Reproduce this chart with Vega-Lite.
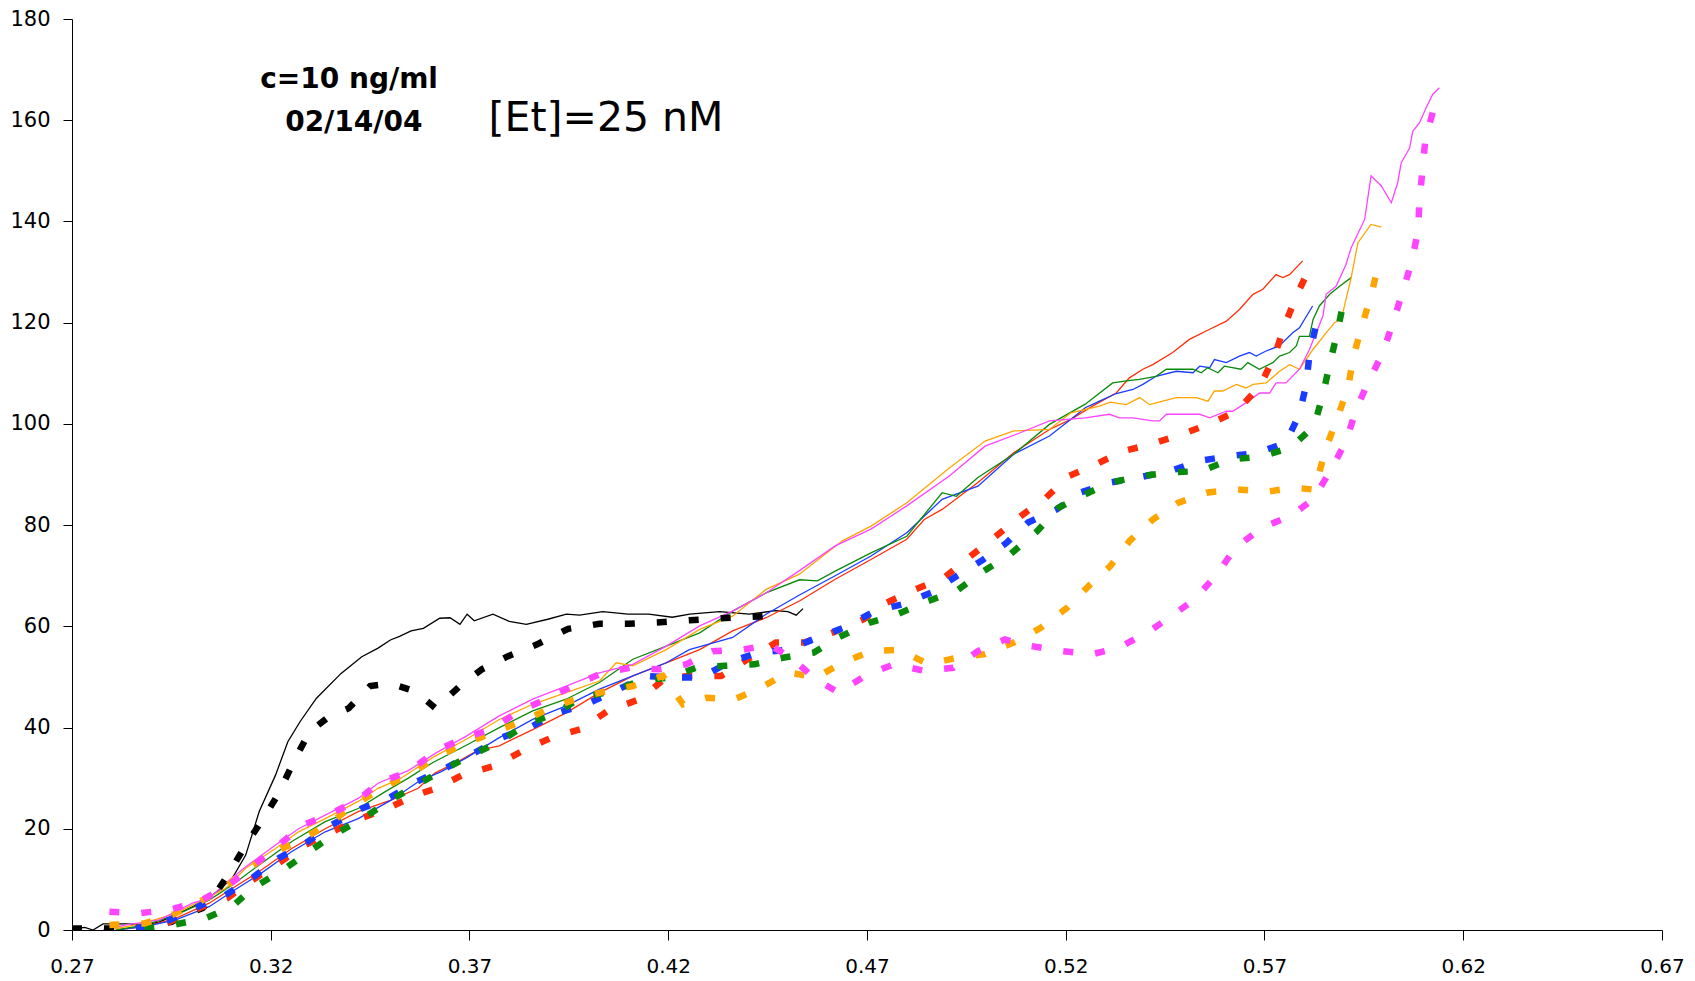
{
"$schema": "https://vega.github.io/schema/vega-lite/v6.json",
"width": 1590, "height": 911,
"autosize": "none",
"padding": {"left": 72, "top": 19, "right": 33, "bottom": 51},
"background": "white",
"config": {"view": {"stroke": null}, "font": "DejaVu Sans"},
"datasets": {
"solid": [
{"r":"A","x":0.2703,"y":0.2},{"r":"A","x":0.2732,"y":0.5},{"r":"A","x":0.2753,"y":0},{"r":"A","x":0.2778,"y":1.2},{"r":"A","x":0.2836,"y":1.2},{"r":"A","x":0.2886,"y":1.0},{"r":"A","x":0.292,"y":1.6},{"r":"A","x":0.2961,"y":3.0},{"r":"A","x":0.3003,"y":4.6},{"r":"A","x":0.3036,"y":5.9},{"r":"A","x":0.307,"y":7.9},{"r":"A","x":0.3103,"y":10.2},{"r":"A","x":0.3137,"y":14.8},{"r":"A","x":0.3171,"y":23.4},{"r":"A","x":0.3212,"y":30.6},{"r":"A","x":0.3243,"y":37.2},{"r":"A","x":0.3274,"y":41.2},{"r":"A","x":0.3315,"y":45.8},{"r":"A","x":0.3377,"y":50.7},{"r":"A","x":0.3429,"y":54.0},{"r":"A","x":0.347,"y":55.7},{"r":"A","x":0.3501,"y":57.3},{"r":"A","x":0.3524,"y":58.0},{"r":"A","x":0.3553,"y":59.1},{"r":"A","x":0.3584,"y":59.6},{"r":"A","x":0.3625,"y":61.6},{"r":"A","x":0.3651,"y":61.7},{"r":"A","x":0.3676,"y":60.4},{"r":"A","x":0.3694,"y":62.4},{"r":"A","x":0.3712,"y":61.1},{"r":"A","x":0.3759,"y":62.4},{"r":"A","x":0.38,"y":61.0},{"r":"A","x":0.3843,"y":60.4},{"r":"A","x":0.3897,"y":61.4},{"r":"A","x":0.3944,"y":62.4},{"r":"A","x":0.3977,"y":62.2},{"r":"A","x":0.4035,"y":62.9},{"r":"A","x":0.4099,"y":62.4},{"r":"A","x":0.4151,"y":62.4},{"r":"A","x":0.421,"y":61.8},{"r":"A","x":0.4254,"y":62.4},{"r":"A","x":0.4329,"y":62.9},{"r":"A","x":0.4404,"y":62.4},{"r":"A","x":0.447,"y":63.1},{"r":"A","x":0.4501,"y":62.9},{"r":"A","x":0.4522,"y":62.2},{"r":"A","x":0.4539,"y":63.5},
{"r":"B","x":0.2811,"y":0},{"r":"B","x":0.2886,"y":0.7},{"r":"B","x":0.2961,"y":2.3},{"r":"B","x":0.3045,"y":5.3},{"r":"B","x":0.3103,"y":8.2},{"r":"B","x":0.317,"y":11.5},{"r":"B","x":0.3253,"y":16.1},{"r":"B","x":0.3337,"y":20.0},{"r":"B","x":0.342,"y":23.4},{"r":"B","x":0.3504,"y":25.7},{"r":"B","x":0.3571,"y":28.0},{"r":"B","x":0.3613,"y":31.0},{"r":"B","x":0.3671,"y":33.3},{"r":"B","x":0.3721,"y":35.5},{"r":"B","x":0.3775,"y":36.4},{"r":"B","x":0.3859,"y":39.6},{"r":"B","x":0.3943,"y":42.9},{"r":"B","x":0.4027,"y":46.9},{"r":"B","x":0.4111,"y":50.2},{"r":"B","x":0.4195,"y":52.8},{"r":"B","x":0.4279,"y":55.4},{"r":"B","x":0.4362,"y":59.1},{"r":"B","x":0.4446,"y":61.7},{"r":"B","x":0.453,"y":65.0},{"r":"B","x":0.462,"y":69.3},{"r":"B","x":0.471,"y":73.2},{"r":"B","x":0.48,"y":77.2},{"r":"B","x":0.4844,"y":81.1},{"r":"B","x":0.4889,"y":83.1},{"r":"B","x":0.4979,"y":88.4},{"r":"B","x":0.5069,"y":94.3},{"r":"B","x":0.5159,"y":98.9},{"r":"B","x":0.5213,"y":100.9},{"r":"B","x":0.5267,"y":103.5},{"r":"B","x":0.5327,"y":106.1},{"r":"B","x":0.536,"y":109.1},{"r":"B","x":0.5394,"y":110.8},{"r":"B","x":0.5419,"y":111.7},{"r":"B","x":0.5469,"y":114.1},{"r":"B","x":0.5511,"y":116.7},{"r":"B","x":0.5562,"y":118.7},{"r":"B","x":0.5604,"y":120.3},{"r":"B","x":0.5637,"y":122.6},{"r":"B","x":0.5671,"y":125.6},{"r":"B","x":0.5696,"y":126.6},{"r":"B","x":0.5729,"y":129.5},{"r":"B","x":0.5746,"y":128.9},{"r":"B","x":0.5763,"y":129.5},{"r":"B","x":0.5796,"y":132.2},
{"r":"C","x":0.2811,"y":0},{"r":"C","x":0.2886,"y":0.7},{"r":"C","x":0.2961,"y":2.0},{"r":"C","x":0.3045,"y":4.6},{"r":"C","x":0.3103,"y":7.6},{"r":"C","x":0.317,"y":10.9},{"r":"C","x":0.3253,"y":15.5},{"r":"C","x":0.3337,"y":19.4},{"r":"C","x":0.342,"y":22.0},{"r":"C","x":0.3504,"y":25.7},{"r":"C","x":0.3571,"y":29.3},{"r":"C","x":0.3629,"y":31.3},{"r":"C","x":0.3692,"y":34.0},{"r":"C","x":0.3775,"y":38.0},{"r":"C","x":0.3859,"y":41.6},{"r":"C","x":0.3943,"y":44.3},{"r":"C","x":0.4027,"y":47.6},{"r":"C","x":0.4111,"y":50.2},{"r":"C","x":0.4195,"y":52.8},{"r":"C","x":0.4253,"y":55.4},{"r":"C","x":0.4362,"y":57.8},{"r":"C","x":0.4446,"y":62.4},{"r":"C","x":0.453,"y":66.2},{"r":"C","x":0.462,"y":70.0},{"r":"C","x":0.471,"y":73.9},{"r":"C","x":0.48,"y":78.5},{"r":"C","x":0.4889,"y":85.1},{"r":"C","x":0.4979,"y":87.7},{"r":"C","x":0.5069,"y":94.0},{"r":"C","x":0.5159,"y":97.6},{"r":"C","x":0.5213,"y":100.9},{"r":"C","x":0.5249,"y":103.2},{"r":"C","x":0.5285,"y":104.5},{"r":"C","x":0.5327,"y":106.0},{"r":"C","x":0.5369,"y":106.8},{"r":"C","x":0.5394,"y":107.8},{"r":"C","x":0.5427,"y":109.4},{"r":"C","x":0.5478,"y":110.4},{"r":"C","x":0.552,"y":110.1},{"r":"C","x":0.5537,"y":111.4},{"r":"C","x":0.5562,"y":111.1},{"r":"C","x":0.5574,"y":112.7},{"r":"C","x":0.5604,"y":112.1},{"r":"C","x":0.5637,"y":113.4},{"r":"C","x":0.5662,"y":114.1},{"r":"C","x":0.5679,"y":113.4},{"r":"C","x":0.5704,"y":114.4},{"r":"C","x":0.5737,"y":115.4},{"r":"C","x":0.5771,"y":118.0},{"r":"C","x":0.5788,"y":119.0},{"r":"C","x":0.5821,"y":123.3},
{"r":"D","x":0.2811,"y":0},{"r":"D","x":0.2886,"y":1.0},{"r":"D","x":0.2961,"y":3.0},{"r":"D","x":0.3045,"y":5.9},{"r":"D","x":0.3103,"y":8.9},{"r":"D","x":0.317,"y":12.8},{"r":"D","x":0.3253,"y":17.5},{"r":"D","x":0.3337,"y":21.4},{"r":"D","x":0.342,"y":24.0},{"r":"D","x":0.3487,"y":27.3},{"r":"D","x":0.3546,"y":30.0},{"r":"D","x":0.3608,"y":33.1},{"r":"D","x":0.3692,"y":36.5},{"r":"D","x":0.3775,"y":40.0},{"r":"D","x":0.3859,"y":43.3},{"r":"D","x":0.3943,"y":45.6},{"r":"D","x":0.4027,"y":48.9},{"r":"D","x":0.4111,"y":53.5},{"r":"D","x":0.4195,"y":56.1},{"r":"D","x":0.4279,"y":58.7},{"r":"D","x":0.4362,"y":63.0},{"r":"D","x":0.4446,"y":66.6},{"r":"D","x":0.453,"y":69.2},{"r":"D","x":0.4575,"y":69.0},{"r":"D","x":0.462,"y":70.9},{"r":"D","x":0.471,"y":74.5},{"r":"D","x":0.48,"y":77.8},{"r":"D","x":0.4889,"y":86.4},{"r":"D","x":0.4925,"y":85.7},{"r":"D","x":0.4979,"y":89.4},{"r":"D","x":0.5069,"y":94.0},{"r":"D","x":0.5159,"y":99.9},{"r":"D","x":0.5249,"y":103.9},{"r":"D","x":0.5318,"y":108.1},{"r":"D","x":0.5352,"y":108.5},{"r":"D","x":0.5385,"y":108.8},{"r":"D","x":0.5427,"y":109.4},{"r":"D","x":0.5453,"y":110.8},{"r":"D","x":0.552,"y":110.8},{"r":"D","x":0.5541,"y":110.1},{"r":"D","x":0.5557,"y":111.1},{"r":"D","x":0.5583,"y":110.1},{"r":"D","x":0.5599,"y":111.4},{"r":"D","x":0.5641,"y":110.8},{"r":"D","x":0.5658,"y":112.1},{"r":"D","x":0.5687,"y":110.8},{"r":"D","x":0.5721,"y":112.1},{"r":"D","x":0.5738,"y":113.4},{"r":"D","x":0.5763,"y":114.1},{"r":"D","x":0.578,"y":115.4},{"r":"D","x":0.5788,"y":117.3},{"r":"D","x":0.5813,"y":117.3},{"r":"D","x":0.5822,"y":120.6},{"r":"D","x":0.5838,"y":123.3},{"r":"D","x":0.5864,"y":125.6},{"r":"D","x":0.5889,"y":127.2},{"r":"D","x":0.5918,"y":128.9},
{"r":"E","x":0.2794,"y":0},{"r":"E","x":0.2878,"y":1.3},{"r":"E","x":0.2961,"y":3.3},{"r":"E","x":0.3045,"y":6.6},{"r":"E","x":0.3086,"y":8.2},{"r":"E","x":0.3137,"y":12.2},{"r":"E","x":0.3212,"y":16.1},{"r":"E","x":0.327,"y":19.4},{"r":"E","x":0.3337,"y":22.0},{"r":"E","x":0.342,"y":25.4},{"r":"E","x":0.347,"y":28.0},{"r":"E","x":0.3524,"y":29.8},{"r":"E","x":0.3608,"y":34.1},{"r":"E","x":0.3692,"y":37.7},{"r":"E","x":0.3775,"y":41.6},{"r":"E","x":0.3859,"y":44.6},{"r":"E","x":0.3943,"y":46.9},{"r":"E","x":0.4027,"y":49.2},{"r":"E","x":0.4069,"y":52.8},{"r":"E","x":0.4111,"y":52.2},{"r":"E","x":0.4195,"y":55.4},{"r":"E","x":0.4279,"y":59.4},{"r":"E","x":0.4362,"y":62.0},{"r":"E","x":0.4446,"y":67.3},{"r":"E","x":0.453,"y":70.3},{"r":"E","x":0.4638,"y":76.9},{"r":"E","x":0.471,"y":79.8},{"r":"E","x":0.48,"y":84.4},{"r":"E","x":0.4907,"y":91.3},{"r":"E","x":0.4997,"y":96.6},{"r":"E","x":0.5069,"y":98.6},{"r":"E","x":0.5159,"y":98.9},{"r":"E","x":0.5213,"y":102.2},{"r":"E","x":0.5285,"y":103.5},{"r":"E","x":0.5312,"y":104.3},{"r":"E","x":0.5352,"y":103.8},{"r":"E","x":0.5386,"y":105.2},{"r":"E","x":0.5411,"y":103.8},{"r":"E","x":0.5444,"y":104.5},{"r":"E","x":0.5478,"y":105.2},{"r":"E","x":0.5528,"y":105.2},{"r":"E","x":0.5558,"y":104.5},{"r":"E","x":0.5574,"y":106.5},{"r":"E","x":0.5595,"y":106.5},{"r":"E","x":0.5629,"y":107.8},{"r":"E","x":0.5654,"y":107.1},{"r":"E","x":0.5671,"y":107.8},{"r":"E","x":0.5704,"y":108.1},{"r":"E","x":0.5738,"y":110.4},{"r":"E","x":0.5763,"y":111.7},{"r":"E","x":0.5788,"y":110.8},{"r":"E","x":0.5822,"y":114.7},{"r":"E","x":0.5855,"y":118.0},{"r":"E","x":0.5876,"y":120.0},{"r":"E","x":0.5893,"y":120.6},{"r":"E","x":0.5918,"y":128.9},{"r":"E","x":0.5935,"y":135.8},{"r":"E","x":0.5968,"y":139.4},{"r":"E","x":0.5994,"y":138.9},
{"r":"F","x":0.2778,"y":0},{"r":"F","x":0.2836,"y":1.0},{"r":"F","x":0.292,"y":2.0},{"r":"F","x":0.3003,"y":5.3},{"r":"F","x":0.3045,"y":6.3},{"r":"F","x":0.3086,"y":9.2},{"r":"F","x":0.3137,"y":12.5},{"r":"F","x":0.3212,"y":16.8},{"r":"F","x":0.327,"y":20.0},{"r":"F","x":0.3337,"y":22.7},{"r":"F","x":0.342,"y":26.0},{"r":"F","x":0.347,"y":29.0},{"r":"F","x":0.3546,"y":31.5},{"r":"F","x":0.3616,"y":35.0},{"r":"F","x":0.3692,"y":38.3},{"r":"F","x":0.3775,"y":42.3},{"r":"F","x":0.3859,"y":45.6},{"r":"F","x":0.3943,"y":48.2},{"r":"F","x":0.4027,"y":50.8},{"r":"F","x":0.4111,"y":52.5},{"r":"F","x":0.4195,"y":56.1},{"r":"F","x":0.4279,"y":60.1},{"r":"F","x":0.4362,"y":63.0},{"r":"F","x":0.4446,"y":66.6},{"r":"F","x":0.453,"y":71.0},{"r":"F","x":0.462,"y":75.9},{"r":"F","x":0.471,"y":79.2},{"r":"F","x":0.48,"y":83.8},{"r":"F","x":0.4907,"y":89.7},{"r":"F","x":0.4997,"y":95.6},{"r":"F","x":0.5087,"y":98.3},{"r":"F","x":0.5159,"y":100.6},{"r":"F","x":0.5249,"y":101.2},{"r":"F","x":0.531,"y":101.9},{"r":"F","x":0.5335,"y":101.2},{"r":"F","x":0.5369,"y":101.2},{"r":"F","x":0.5419,"y":100.6},{"r":"F","x":0.5436,"y":100.6},{"r":"F","x":0.5453,"y":101.9},{"r":"F","x":0.5537,"y":101.9},{"r":"F","x":0.5562,"y":101.2},{"r":"F","x":0.5604,"y":102.5},{"r":"F","x":0.562,"y":102.5},{"r":"F","x":0.5654,"y":104.2},{"r":"F","x":0.5688,"y":106.1},{"r":"F","x":0.5713,"y":106.1},{"r":"F","x":0.5729,"y":108.1},{"r":"F","x":0.5754,"y":108.1},{"r":"F","x":0.5788,"y":110.8},{"r":"F","x":0.5813,"y":114.7},{"r":"F","x":0.5847,"y":121.3},{"r":"F","x":0.5855,"y":125.6},{"r":"F","x":0.588,"y":127.2},{"r":"F","x":0.5905,"y":131.5},{"r":"F","x":0.5918,"y":134.8},{"r":"F","x":0.5952,"y":140.4},{"r":"F","x":0.5968,"y":149.0},{"r":"F","x":0.5994,"y":147.0},{"r":"F","x":0.6019,"y":143.7},{"r":"F","x":0.6035,"y":147.6},{"r":"F","x":0.6044,"y":151.6},{"r":"F","x":0.6065,"y":154.5},{"r":"F","x":0.6073,"y":157.8},{"r":"F","x":0.609,"y":159.5},{"r":"F","x":0.6107,"y":162.5},{"r":"F","x":0.6123,"y":165.1},{"r":"F","x":0.614,"y":166.4}
],
"dashed": [
{"r":"A","x":0.27,"y":0.3},{"r":"A","x":0.28,"y":0.3},{"r":"A","x":0.288,"y":0.5},{"r":"A","x":0.295,"y":1.6},{"r":"A","x":0.299,"y":3.2},{"r":"A","x":0.3028,"y":4.3},{"r":"A","x":0.306,"y":7.0},{"r":"A","x":0.3095,"y":11.2},{"r":"A","x":0.3137,"y":16.8},{"r":"A","x":0.3182,"y":22.1},{"r":"A","x":0.322,"y":27.0},{"r":"A","x":0.3258,"y":33.3},{"r":"A","x":0.3297,"y":39.1},{"r":"A","x":0.3347,"y":42.2},{"r":"A","x":0.3396,"y":43.8},{"r":"A","x":0.345,"y":48.2},{"r":"A","x":0.3502,"y":48.7},{"r":"A","x":0.3565,"y":47.1},{"r":"A","x":0.3615,"y":43.8},{"r":"A","x":0.3673,"y":48.0},{"r":"A","x":0.3731,"y":51.5},{"r":"A","x":0.3797,"y":54.1},{"r":"A","x":0.3869,"y":56.4},{"r":"A","x":0.3948,"y":59.5},{"r":"A","x":0.4027,"y":60.5},{"r":"A","x":0.4101,"y":60.5},{"r":"A","x":0.4181,"y":60.8},{"r":"A","x":0.4254,"y":61.2},{"r":"A","x":0.4332,"y":61.6},{"r":"A","x":0.4408,"y":61.9},{"r":"A","x":0.4487,"y":62.2},
{"r":"B","x":0.2861,"y":0.3},{"r":"B","x":0.2945,"y":1.6},{"r":"B","x":0.3028,"y":4.6},{"r":"B","x":0.3091,"y":6.3},{"r":"B","x":0.3149,"y":9.6},{"r":"B","x":0.3212,"y":12.8},{"r":"B","x":0.3287,"y":16.8},{"r":"B","x":0.3354,"y":19.4},{"r":"B","x":0.3416,"y":21.7},{"r":"B","x":0.3504,"y":24.4},{"r":"B","x":0.356,"y":26.5},{"r":"B","x":0.362,"y":28.1},{"r":"B","x":0.3687,"y":30.8},{"r":"B","x":0.3763,"y":32.4},{"r":"B","x":0.3834,"y":35.4},{"r":"B","x":0.3906,"y":38.0},{"r":"B","x":0.3981,"y":39.7},{"r":"B","x":0.4048,"y":43.3},{"r":"B","x":0.4128,"y":45.6},{"r":"B","x":0.4195,"y":49.9},{"r":"B","x":0.4262,"y":50.2},{"r":"B","x":0.4333,"y":50.2},{"r":"B","x":0.44,"y":53.5},{"r":"B","x":0.4471,"y":56.8},{"r":"B","x":0.4543,"y":56.8},{"r":"B","x":0.4615,"y":58.8},{"r":"B","x":0.4692,"y":61.4},{"r":"B","x":0.475,"y":64.7},{"r":"B","x":0.4822,"y":67.3},{"r":"B","x":0.4894,"y":69.6},{"r":"B","x":0.4961,"y":73.9},{"r":"B","x":0.5024,"y":77.8},{"r":"B","x":0.5087,"y":81.8},{"r":"B","x":0.515,"y":85.4},{"r":"B","x":0.5208,"y":89.7},{"r":"B","x":0.5276,"y":92.0},{"r":"B","x":0.5343,"y":94.6},{"r":"B","x":0.541,"y":95.9},{"r":"B","x":0.5491,"y":97.9},{"r":"B","x":0.5559,"y":99.9},{"r":"B","x":0.563,"y":102.5},{"r":"B","x":0.5689,"y":107.5},{"r":"B","x":0.5725,"y":113.4},{"r":"B","x":0.575,"y":119.3},{"r":"B","x":0.578,"y":125.3},{"r":"B","x":0.5809,"y":130.0},
{"r":"C","x":0.2861,"y":0.3},{"r":"C","x":0.2945,"y":2.0},{"r":"C","x":0.3036,"y":5.3},{"r":"C","x":0.3086,"y":6.9},{"r":"C","x":0.3157,"y":10.5},{"r":"C","x":0.322,"y":14.2},{"r":"C","x":0.3287,"y":17.1},{"r":"C","x":0.3354,"y":20.8},{"r":"C","x":0.3429,"y":24.0},{"r":"C","x":0.3496,"y":26.0},{"r":"C","x":0.3564,"y":29.2},{"r":"C","x":0.3633,"y":31.7},{"r":"C","x":0.3706,"y":34.7},{"r":"C","x":0.378,"y":38.0},{"r":"C","x":0.3851,"y":40.0},{"r":"C","x":0.3922,"y":42.9},{"r":"C","x":0.3994,"y":44.6},{"r":"C","x":0.4065,"y":47.2},{"r":"C","x":0.4145,"y":50.2},{"r":"C","x":0.4212,"y":49.9},{"r":"C","x":0.4283,"y":49.9},{"r":"C","x":0.435,"y":52.8},{"r":"C","x":0.4425,"y":54.8},{"r":"C","x":0.4501,"y":55.4},{"r":"C","x":0.4576,"y":57.8},{"r":"C","x":0.4647,"y":59.9},{"r":"C","x":0.4719,"y":63.0},{"r":"C","x":0.4791,"y":64.4},{"r":"C","x":0.4863,"y":66.7},{"r":"C","x":0.4925,"y":69.9},{"r":"C","x":0.4987,"y":72.9},{"r":"C","x":0.5051,"y":76.5},{"r":"C","x":0.5105,"y":80.5},{"r":"C","x":0.5177,"y":83.1},{"r":"C","x":0.5235,"y":86.4},{"r":"C","x":0.5312,"y":88.4},{"r":"C","x":0.5383,"y":89.4},{"r":"C","x":0.5464,"y":90.7},{"r":"C","x":0.5536,"y":92.7},{"r":"C","x":0.5608,"y":93.6},{"r":"C","x":0.568,"y":94.2},{"r":"C","x":0.5754,"y":96.3},{"r":"C","x":0.5788,"y":102.0},{"r":"C","x":0.5805,"y":107.8},{"r":"C","x":0.5813,"y":113.7},{"r":"C","x":0.583,"y":119.6},
{"r":"D","x":0.2882,"y":0.3},{"r":"D","x":0.2953,"y":1.0},{"r":"D","x":0.3036,"y":2.3},{"r":"D","x":0.3103,"y":4.6},{"r":"D","x":0.3153,"y":8.2},{"r":"D","x":0.3232,"y":11.9},{"r":"D","x":0.3291,"y":15.2},{"r":"D","x":0.3358,"y":18.8},{"r":"D","x":0.3433,"y":22.1},{"r":"D","x":0.3496,"y":25.4},{"r":"D","x":0.3564,"y":28.5},{"r":"D","x":0.3631,"y":31.5},{"r":"D","x":0.3706,"y":34.6},{"r":"D","x":0.3776,"y":37.2},{"r":"D","x":0.3843,"y":40.6},{"r":"D","x":0.3918,"y":42.9},{"r":"D","x":0.3981,"y":45.9},{"r":"D","x":0.4061,"y":47.2},{"r":"D","x":0.4128,"y":49.2},{"r":"D","x":0.4203,"y":49.9},{"r":"D","x":0.427,"y":51.8},{"r":"D","x":0.4342,"y":52.2},{"r":"D","x":0.4417,"y":52.5},{"r":"D","x":0.4488,"y":53.8},{"r":"D","x":0.4566,"y":54.8},{"r":"D","x":0.4631,"y":57.9},{"r":"D","x":0.4705,"y":60.7},{"r":"D","x":0.4777,"y":62.4},{"r":"D","x":0.4854,"y":65.0},{"r":"D","x":0.4925,"y":67.0},{"r":"D","x":0.4993,"y":70.9},{"r":"D","x":0.506,"y":74.2},{"r":"D","x":0.5128,"y":78.8},{"r":"D","x":0.5181,"y":83.4},{"r":"D","x":0.5249,"y":86.1},{"r":"D","x":0.5312,"y":88.4},{"r":"D","x":0.5392,"y":89.7},{"r":"D","x":0.5464,"y":90.4},{"r":"D","x":0.5541,"y":90.7},{"r":"D","x":0.5617,"y":93.0},{"r":"D","x":0.569,"y":93.5},{"r":"D","x":0.5766,"y":95.3},{"r":"D","x":0.5825,"y":99.6},{"r":"D","x":0.5847,"y":105.8},{"r":"D","x":0.5864,"y":111.8},{"r":"D","x":0.5882,"y":117.7},{"r":"D","x":0.59,"y":124.5},
{"r":"E","x":0.2794,"y":1.0},{"r":"E","x":0.2882,"y":1.3},{"r":"E","x":0.2953,"y":3.0},{"r":"E","x":0.3028,"y":5.9},{"r":"E","x":0.3078,"y":7.9},{"r":"E","x":0.3137,"y":11.9},{"r":"E","x":0.3212,"y":15.5},{"r":"E","x":0.3283,"y":18.1},{"r":"E","x":0.3354,"y":21.4},{"r":"E","x":0.3404,"y":24.4},{"r":"E","x":0.3479,"y":28.0},{"r":"E","x":0.3546,"y":30.6},{"r":"E","x":0.361,"y":33.8},{"r":"E","x":0.3675,"y":36.4},{"r":"E","x":0.3759,"y":39.0},{"r":"E","x":0.3826,"y":41.0},{"r":"E","x":0.3897,"y":43.6},{"r":"E","x":0.3977,"y":45.9},{"r":"E","x":0.4044,"y":47.2},{"r":"E","x":0.4111,"y":48.2},{"r":"E","x":0.4186,"y":50.2},{"r":"E","x":0.4237,"y":44.6},{"r":"E","x":0.4296,"y":45.9},{"r":"E","x":0.4367,"y":45.6},{"r":"E","x":0.4434,"y":47.9},{"r":"E","x":0.4501,"y":50.9},{"r":"E","x":0.4572,"y":49.9},{"r":"E","x":0.4638,"y":52.8},{"r":"E","x":0.471,"y":55.1},{"r":"E","x":0.4782,"y":55.4},{"r":"E","x":0.4854,"y":52.5},{"r":"E","x":0.4925,"y":53.8},{"r":"E","x":0.4997,"y":54.5},{"r":"E","x":0.5069,"y":56.8},{"r":"E","x":0.5137,"y":59.7},{"r":"E","x":0.5204,"y":63.7},{"r":"E","x":0.5258,"y":68.0},{"r":"E","x":0.5312,"y":71.9},{"r":"E","x":0.5361,"y":76.9},{"r":"E","x":0.5419,"y":81.1},{"r":"E","x":0.5482,"y":84.4},{"r":"E","x":0.5554,"y":86.4},{"r":"E","x":0.5626,"y":87.1},{"r":"E","x":0.5707,"y":86.6},{"r":"E","x":0.5775,"y":87.4},{"r":"E","x":0.5826,"y":87.0},{"r":"E","x":0.5855,"y":95.3},{"r":"E","x":0.5885,"y":101.5},{"r":"E","x":0.5911,"y":107.5},{"r":"E","x":0.5924,"y":113.4},{"r":"E","x":0.5946,"y":119.6},{"r":"E","x":0.5969,"y":125.6},{"r":"E","x":0.599,"y":132.5},
{"r":"F","x":0.2794,"y":3.6},{"r":"F","x":0.2869,"y":3.3},{"r":"F","x":0.2945,"y":4.0},{"r":"F","x":0.302,"y":5.6},{"r":"F","x":0.3095,"y":8.9},{"r":"F","x":0.3153,"y":12.5},{"r":"F","x":0.322,"y":16.8},{"r":"F","x":0.3283,"y":20.8},{"r":"F","x":0.3354,"y":23.1},{"r":"F","x":0.342,"y":25.7},{"r":"F","x":0.347,"y":29.0},{"r":"F","x":0.3549,"y":31.4},{"r":"F","x":0.3616,"y":35.4},{"r":"F","x":0.3679,"y":37.7},{"r":"F","x":0.3755,"y":39.7},{"r":"F","x":0.3826,"y":43.3},{"r":"F","x":0.3893,"y":45.6},{"r":"F","x":0.3968,"y":48.5},{"r":"F","x":0.4035,"y":50.8},{"r":"F","x":0.4103,"y":51.8},{"r":"F","x":0.4178,"y":51.5},{"r":"F","x":0.4245,"y":52.5},{"r":"F","x":0.4312,"y":55.1},{"r":"F","x":0.4388,"y":55.4},{"r":"F","x":0.4455,"y":56.4},{"r":"F","x":0.4513,"y":53.5},{"r":"F","x":0.4572,"y":49.5},{"r":"F","x":0.4629,"y":46.9},{"r":"F","x":0.4701,"y":50.5},{"r":"F","x":0.4768,"y":52.5},{"r":"F","x":0.4845,"y":51.2},{"r":"F","x":0.4917,"y":51.8},{"r":"F","x":0.4979,"y":55.1},{"r":"F","x":0.5047,"y":57.4},{"r":"F","x":0.5114,"y":56.1},{"r":"F","x":0.519,"y":55.1},{"r":"F","x":0.5267,"y":54.5},{"r":"F","x":0.5334,"y":55.8},{"r":"F","x":0.5406,"y":58.8},{"r":"F","x":0.5473,"y":62.4},{"r":"F","x":0.5523,"y":65.3},{"r":"F","x":0.5581,"y":70.3},{"r":"F","x":0.5626,"y":75.5},{"r":"F","x":0.5694,"y":79.5},{"r":"F","x":0.5766,"y":81.8},{"r":"F","x":0.5822,"y":85.1},{"r":"F","x":0.5868,"y":91.0},{"r":"F","x":0.5905,"y":96.6},{"r":"F","x":0.5931,"y":102.9},{"r":"F","x":0.596,"y":108.1},{"r":"F","x":0.5998,"y":114.1},{"r":"F","x":0.6023,"y":120.0},{"r":"F","x":0.6048,"y":126.2},{"r":"F","x":0.6071,"y":132.2},{"r":"F","x":0.6086,"y":138.1},{"r":"F","x":0.609,"y":144.0},{"r":"F","x":0.6097,"y":149.9},{"r":"F","x":0.6105,"y":156.5},{"r":"F","x":0.6128,"y":162.8},{"r":"F","x":0.6138,"y":164.5}
]
},
"layer": [
{
"data": {"name": "solid"},
"mark": {"type": "line", "strokeWidth": 1.3, "clip": true},
"encoding": {
"x": {"field": "x", "type": "quantitative", "scale": {"domain": [0.27, 0.67], "nice": false, "zero": false},
"axis": {"title": null, "grid": false, "values": [0.27,0.32,0.37,0.42,0.47,0.52,0.57,0.62,0.67], "format": ".2f", "tickSize": 10, "labelPadding": 16, "labelFontSize": 20, "labelFont": "DejaVu Sans", "labelColor": "#000", "domainColor": "#000", "tickColor": "#000", "labelFlush": false, "labelOverlap": false}},
"y": {"field": "y", "type": "quantitative", "scale": {"domain": [0, 180], "nice": false},
"axis": {"title": null, "grid": false, "values": [0,20,40,60,80,100,120,140,160,180], "tickSize": 9, "labelPadding": 13, "labelFontSize": 21, "labelFont": "DejaVu Sans", "labelColor": "#000", "domainColor": "#000", "tickColor": "#000", "labelFlush": false, "labelOverlap": false}},
"color": {"field": "r", "type": "nominal", "legend": null, "scale": {"domain": ["A","B","C","D","E","F"], "range": ["#000000","#FF2E0A","#1A3CFF","#0A8A0A","#FFA500","#FF44FF"]}},
"order": {"field": "x", "type": "quantitative"}
}
},
{
"data": {"name": "dashed"},
"mark": {"type": "line", "strokeWidth": 6.5, "strokeDash": [10, 22], "strokeCap": "butt", "clip": true},
"encoding": {
"x": {"field": "x", "type": "quantitative"},
"y": {"field": "y", "type": "quantitative"},
"color": {"field": "r", "type": "nominal", "legend": null},
"order": {"field": "x", "type": "quantitative"}
}
},
{
"data": {"values": [{"t": "c=10 ng/ml"}]},
"mark": {"type": "text", "font": "DejaVu Sans", "fontWeight": "bold", "fontSize": 28, "align": "center", "baseline": "alphabetic", "color": "#000"},
"encoding": {"text": {"field": "t"}, "x": {"datum": 0.3397}, "y": {"datum": 166.4}}
},
{
"data": {"values": [{"t": "02/14/04"}]},
"mark": {"type": "text", "font": "DejaVu Sans", "fontWeight": "bold", "fontSize": 28, "align": "center", "baseline": "alphabetic", "color": "#000"},
"encoding": {"text": {"field": "t"}, "x": {"datum": 0.3409}, "y": {"datum": 157.8}}
},
{
"data": {"values": [{"t": "[Et]=25 nM"}]},
"mark": {"type": "text", "font": "DejaVu Sans", "fontSize": 41, "align": "left", "baseline": "alphabetic", "color": "#000"},
"encoding": {"text": {"field": "t"}, "x": {"datum": 0.3748}, "y": {"datum": 157.8}}
}
]
}
